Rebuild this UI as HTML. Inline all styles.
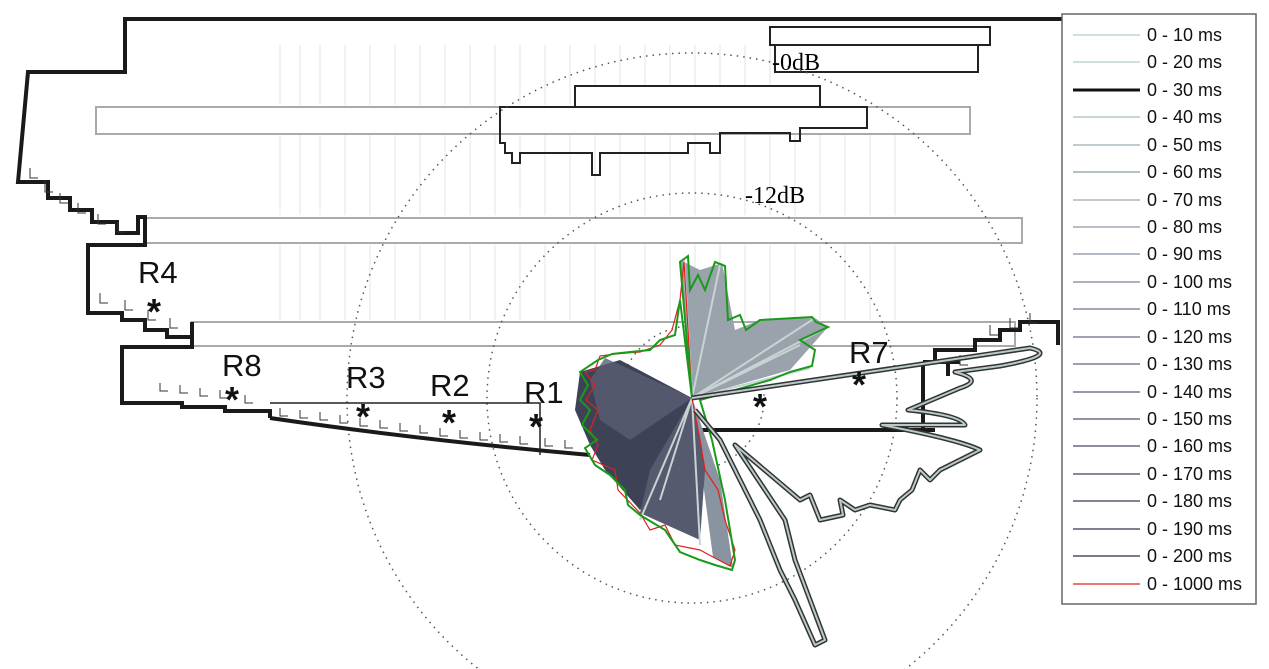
<!DOCTYPE html>
<html><head><meta charset="utf-8"><style>
html,body{margin:0;padding:0;background:#fff;width:1269px;height:669px;overflow:hidden}
svg{display:block}
text{font-family:"Liberation Sans",sans-serif}
.s{font-family:"Liberation Serif",serif;font-size:24px}
</style></head><body>
<svg width="1269" height="669" viewBox="0 0 1269 669" xmlns="http://www.w3.org/2000/svg">
<g stroke="#e4e4e4" stroke-width="1">
<path d="M280 45V105M300 45V105M320 45V105M345 45V105M370 45V105M395 45V105M420 45V105M445 45V105M470 45V105M495 45V105M520 45V105M545 45V105M570 45V105M595 45V105M620 45V105M645 45V105M670 45V105M695 45V105M720 45V105M745 45V105M770 45V105"/>
<path d="M280 135V215M300 135V215M320 135V215M345 135V215M370 135V215M395 135V215M420 135V215M445 135V215M470 135V215M495 135V215M520 135V215M545 135V215M570 135V215M595 135V215M620 135V215M645 135V215M670 135V215M695 135V215M720 135V215M745 135V215M770 135V215M795 135V215M820 135V215M845 135V215M870 135V215M895 135V215"/>
<path d="M280 245V320M300 245V320M320 245V320M345 245V320M370 245V320M395 245V320M420 245V320M445 245V320M470 245V320M495 245V320M520 245V320M545 245V320M570 245V320M595 245V320M620 245V320M645 245V320M670 245V320M695 245V320M720 245V320M745 245V320M770 245V320M795 245V320M820 245V320M845 245V320M870 245V320M895 245V320"/>
</g>
<g fill="none" stroke="#aaa" stroke-width="2">
<rect x="96" y="107" width="874" height="27"/>
<rect x="145" y="218" width="877" height="25"/>
<rect x="192" y="322" width="823" height="24"/>
</g>
<g fill="#fff" stroke="#222" stroke-width="2">
<rect x="770" y="27" width="220" height="18"/>
<rect x="775" y="45" width="203" height="27"/>
<rect x="575" y="86" width="245" height="21"/>
<path d="M500 107H867V128H800V141H790V133H720V153H710V143H688V153H600V175H592V153H520V163H512V153H505V143H500Z" fill="none"/>
</g>
<g fill="none" stroke="#555" stroke-width="1.5" stroke-dasharray="1.5 5">
<circle cx="692" cy="398" r="345"/>
<circle cx="692" cy="398" r="205"/>
<circle cx="692" cy="398" r="72"/>
</g>
<g fill="none" stroke="#1a1a1a" stroke-width="4">
<path d="M1062 19H125V72H28L18 182H48V198H70V210H92V222H117V233H138V217H145V245H88V313H122V320H145V330H167V337H192V322M192 322V347H122V403H182V407H225V411H270V418"/>
<path d="M270 418Q420 440 590 455"/>
<path d="M700 430H935M923 362V430M923 362H948V376M948 362H960M935 362V350H975V340H1000V330H1020V322H1058V345"/>
</g>
<path d="M270 403H540V455" fill="none" stroke="#222" stroke-width="1.5"/>
<g fill="none" stroke="#333" stroke-width="1">
<path d="M30 168v10h8M45 180v12h8M60 193v10h8M78 203v10h8M98 214v10h8M118 222v10h8M100 293v10h8M125 300v10h8M148 310v10h8M170 318v10h8M160 383v8h8M180 385v8h8M200 388v8h8M220 390v8h8M245 395v8h8M280 408v8h8M300 410v8h8M320 412v8h8M340 415v8h8M360 418v8h8M380 420v8h8M400 423v8h8M420 425v8h8M440 428v8h8M460 430v8h8M480 432v8h8M500 434v8h8M520 436v8h8M545 438v8h8M565 440v8h8M990 325v10h8M1010 318v10h8M1030 313v10h8M960 355v10h8"/>
</g>
<polygon points="692,398 620,360 580,372 575,410 590,445 605,470 640,510 690,460" fill="#3e4256"/>
<polygon points="692,398 605,358 590,380 600,420 630,440" fill="#5a5e72" opacity="0.8"/>
<polygon points="692,398 680,260 700,270 722,263 735,330 760,320 815,318 828,327 790,370" fill="#9aa2ac"/>
<polygon points="692,398 700,460 713,557 733,568 720,480" fill="#8a93a0"/>
<polygon points="692,398 650,470 640,513 700,540 705,470" fill="#555a6e"/>
<g stroke="#c8d4d4" stroke-width="2" fill="none">
<path d="M692 398L684 260M692 398L720 265M692 398L815 318M692 398L828 327M692 398L800 345M692 398L810 368M692 398L640 520M692 398L660 500M692 398L700 545"/>
</g>
<path d="M692 398L684 262L680 300L672 330L660 345L640 352L615 354L600 356L595 370L585 372L595 385L586 400L598 410L590 430L598 445L592 460L615 470L618 490L640 513L650 530L665 525L675 545L700 550L713 557L730 566L735 550L725 520L718 490L705 470L700 440Z" fill="none" stroke="#e02020" stroke-width="1.2"/>
<path d="M692 398L680 262L688 256L690 290L698 275L705 290L715 262L725 266L728 320L740 315L746 330L760 320L812 317L816 322L828 327L800 340L815 350L812 366L790 372L770 380L700 400L712 440L725 500L735 560L732 570L715 565L700 560L680 552L665 530L640 515L628 505L625 490L610 475L595 465L585 448L597 440L582 425L590 410L580 400L588 385L580 372L598 360L612 354L630 352L650 350L660 340L675 335L680 300Z" fill="none" stroke="#1a9a1a" stroke-width="2"/>
<g fill="none" stroke-linejoin="round">
<path d="M692 398L1030 348Q1060 355 1000 366L955 372Q985 380 960 388L908 410Q960 415 965 425L882 425Q960 440 980 450L940 470L930 480L920 470L912 490L900 500L895 510L870 505L855 510L840 500L843 515L820 520L810 495L800 500L735 445L785 520L795 560L810 600L825 640L815 645L795 600L780 570L760 520L720 440L695 410" stroke="#333" stroke-width="5"/>
<path d="M692 398L1030 348Q1060 355 1000 366L955 372Q985 380 960 388L908 410Q960 415 965 425L882 425Q960 440 980 450L940 470L930 480L920 470L912 490L900 500L895 510L870 505L855 510L840 500L843 515L820 520L810 495L800 500L735 445L785 520L795 560L810 600L825 640L815 645L795 600L780 570L760 520L720 440L695 410" stroke="#b9caca" stroke-width="2"/>
</g>
<g font-size="31" fill="#111">
<text x="138" y="283">R4</text>
<text x="222" y="376">R8</text>
<text x="346" y="388">R3</text>
<text x="430" y="396">R2</text>
<text x="524" y="403">R1</text>
<text x="849" y="363">R7</text>
</g>
<g font-size="36" fill="#111" font-weight="bold">
<text x="147" y="324">*</text><text x="225" y="412">*</text><text x="356" y="429">*</text>
<text x="442" y="435">*</text><text x="529" y="439">*</text><text x="852" y="397">*</text><text x="753" y="419">*</text>
</g>
<text class="s" x="772" y="70">-0dB</text>
<text class="s" x="745" y="203">-12dB</text>
<rect x="1062" y="14" width="194" height="590" fill="#fff" stroke="#666" stroke-width="1.5"/>
<g font-size="18" fill="#111">
<text x="1147" y="41">0 - 10 ms</text><text x="1147" y="68">0 - 20 ms</text><text x="1147" y="96">0 - 30 ms</text>
<text x="1147" y="123">0 - 40 ms</text><text x="1147" y="151">0 - 50 ms</text><text x="1147" y="178">0 - 60 ms</text>
<text x="1147" y="206">0 - 70 ms</text><text x="1147" y="233">0 - 80 ms</text><text x="1147" y="260">0 - 90 ms</text>
<text x="1147" y="288">0 - 100 ms</text><text x="1147" y="315">0 - 110 ms</text><text x="1147" y="343">0 - 120 ms</text>
<text x="1147" y="370">0 - 130 ms</text><text x="1147" y="398">0 - 140 ms</text><text x="1147" y="425">0 - 150 ms</text>
<text x="1147" y="452">0 - 160 ms</text><text x="1147" y="480">0 - 170 ms</text><text x="1147" y="507">0 - 180 ms</text>
<text x="1147" y="535">0 - 190 ms</text><text x="1147" y="562">0 - 200 ms</text><text x="1147" y="590">0 - 1000 ms</text>
</g>
<g stroke-width="1.2">
<path d="M1073 35H1140" stroke="#b8cccc"/><path d="M1073 62H1140" stroke="#b8cccc"/>
<path d="M1073 90H1140" stroke="#111" stroke-width="3"/>
<path d="M1073 117H1140" stroke="#a8bcbe"/><path d="M1073 145H1140" stroke="#9aaeb2"/>
<path d="M1073 172H1140" stroke="#8a9ca4"/><path d="M1073 200H1140" stroke="#a0a8b0"/>
<path d="M1073 227H1140" stroke="#9098a4"/><path d="M1073 254H1140" stroke="#8890a0"/>
<path d="M1073 282H1140" stroke="#7a8296"/><path d="M1073 309H1140" stroke="#6e7690"/>
<path d="M1073 337H1140" stroke="#666c88"/><path d="M1073 364H1140" stroke="#5e6480"/>
<path d="M1073 392H1140" stroke="#565c78"/><path d="M1073 419H1140" stroke="#4e5470"/>
<path d="M1073 446H1140" stroke="#464c68"/><path d="M1073 474H1140" stroke="#3e4460"/>
<path d="M1073 501H1140" stroke="#383c58"/><path d="M1073 529H1140" stroke="#323650"/>
<path d="M1073 556H1140" stroke="#2a2e48"/><path d="M1073 584H1140" stroke="#e02020"/>
</g>
</svg>
</body></html>
